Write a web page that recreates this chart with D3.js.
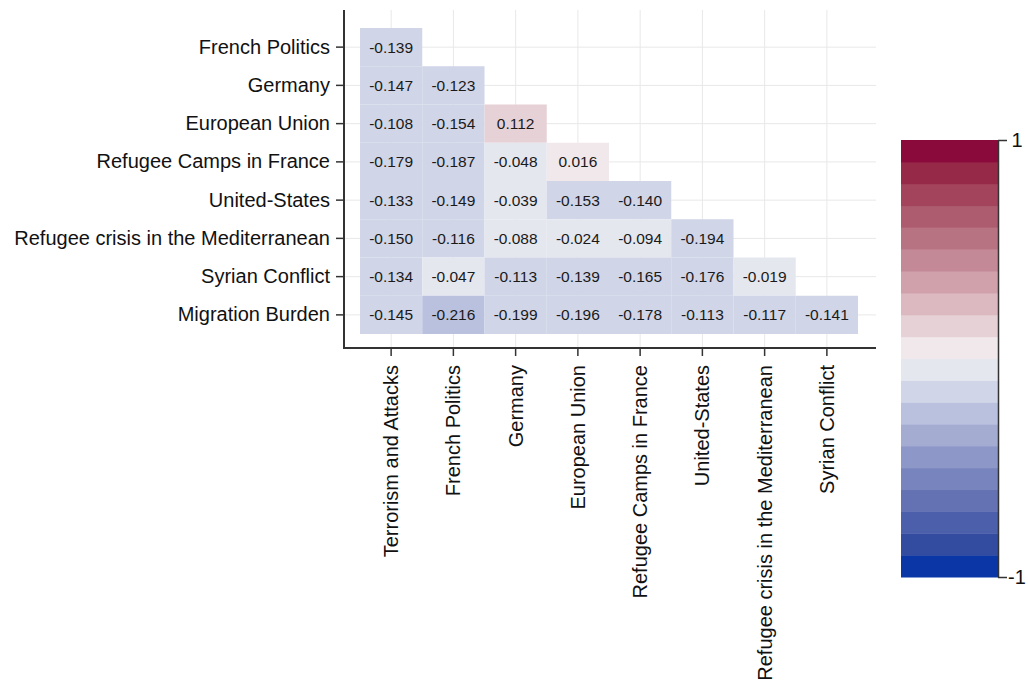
<!DOCTYPE html>
<html>
<head>
<meta charset="utf-8">
<script src="https://cdn.jsdelivr.net/npm/d3@7"></script>
<style>
  html, body { margin: 0; padding: 0; background: #fff; }
  svg { display: block; font-family: "Liberation Sans", Arial, sans-serif; }
</style>
</head>
<body>
<svg id="chart" width="1028" height="682"></svg>
<script>
// ---- Data ----
const rowLabels = ["French Politics", "Germany", "European Union", "Refugee Camps in France",
  "United-States", "Refugee crisis in the Mediterranean", "Syrian Conflict", "Migration Burden"];
const colLabels = ["Terrorism and Attacks", "French Politics", "Germany", "European Union",
  "Refugee Camps in France", "United-States", "Refugee crisis in the Mediterranean", "Syrian Conflict"];
const rowFrenchPolitics = [-0.139];
const rowGermany = [-0.147, -0.123];
const rowEuropeanUnion = [-0.108, -0.154, 0.112];
const rowRefugeeCamps = [-0.179, -0.187, -0.048, 0.016];
const rowUnitedStates = [-0.133, -0.149, -0.039, -0.153, -0.140];
const rowRefugeeCrisis = [-0.150, -0.116, -0.088, -0.024, -0.094, -0.194];
const rowSyrianConflict = [-0.134, -0.047, -0.113, -0.139, -0.165, -0.176, -0.019];
const rowMigrationBurden = [-0.145, -0.216, -0.199, -0.196, -0.178, -0.113, -0.117, -0.141];
const matrixRows = [rowFrenchPolitics, rowGermany, rowEuropeanUnion, rowRefugeeCamps,
  rowUnitedStates, rowRefugeeCrisis, rowSyrianConflict, rowMigrationBurden];
const colorbarTicks = [-1, 1];
// 20 colour steps from -1 to 1
const palette = [
  "rgb(10,55,165)", "rgb(52,76,160)", "rgb(76,95,170)", "rgb(100,114,180)", "rgb(120,132,190)",
  "rgb(142,152,200)", "rgb(165,172,210)", "rgb(186,193,222)", "rgb(208,213,231)", "rgb(229,231,239)",
  "rgb(240,232,235)", "rgb(230,209,214)", "rgb(220,185,193)", "rgb(208,160,171)", "rgb(196,137,151)",
  "rgb(184,115,130)", "rgb(172,92,110)", "rgb(163,68,92)", "rgb(150,40,72)", "rgb(138,10,60)"
];

// ---- Build cells ----
const cells = [];
matrixRows.forEach((vals, r) => {
  vals.forEach((v, c) => cells.push({ row: rowLabels[r], col: colLabels[c], value: v }));
});

const fmtHyphen = f => (v => f(v).replace("\u2212", "-"));
const fmt3 = fmtHyphen(d3.format(".3f"));
const fmtInt = fmtHyphen(d3.format("d"));

const svg = d3.select("#chart");
const axisColor = "#333";
const labelFont = "20px";
const plot = { left: 344, right: 876, top: 10, bottom: 348 };

const x = d3.scaleBand().domain(colLabels).range([360, 858]);
const y = d3.scaleBand().domain(rowLabels).range([28, 334]);
const color = d3.scaleQuantize().domain([-1, 1]).range(palette);

// grid
const grid = svg.append("g");
grid.selectAll("line.v").data(colLabels).join("line")
  .attr("x1", d => x(d) + x.bandwidth() / 2).attr("x2", d => x(d) + x.bandwidth() / 2)
  .attr("y1", plot.top).attr("y2", plot.bottom)
  .attr("stroke", "#e8e8e8").attr("stroke-width", 1);
grid.selectAll("line.h").data(rowLabels).join("line")
  .attr("y1", d => y(d) + y.bandwidth() / 2).attr("y2", d => y(d) + y.bandwidth() / 2)
  .attr("x1", plot.left).attr("x2", plot.right)
  .attr("stroke", "#e8e8e8").attr("stroke-width", 1);

// cells
svg.append("g").selectAll("rect").data(cells).join("rect")
  .attr("x", d => x(d.col)).attr("y", d => y(d.row))
  .attr("width", x.bandwidth()).attr("height", y.bandwidth())
  .attr("fill", d => color(d.value));

svg.append("g").selectAll("text").data(cells).join("text")
  .attr("x", d => x(d.col) + x.bandwidth() / 2)
  .attr("y", d => y(d.row) + y.bandwidth() / 2)
  .attr("text-anchor", "middle").attr("dominant-baseline", "central")
  .attr("font-size", "15.5px").attr("fill", "#1a1a1a")
  .attr("font-family", "Liberation Sans, Arial, sans-serif")
  .text(d => fmt3(d.value));

// axes
const xAxis = svg.append("g").attr("transform", `translate(0,${plot.bottom})`)
  .call(d3.axisBottom(x).tickSize(8).tickPadding(7).tickSizeOuter(0));
xAxis.select(".domain").remove();
xAxis.selectAll(".tick line").attr("stroke", axisColor).attr("stroke-width", 1.5);
xAxis.selectAll(".tick text")
  .attr("font-size", labelFont).attr("font-family", "Liberation Sans, Arial, sans-serif")
  .attr("fill", "#111")
  .attr("transform", "rotate(-90)")
  .attr("text-anchor", "end").attr("dy", "0.35em")
  .attr("x", -17).attr("y", 0);

const yAxis = svg.append("g").attr("transform", `translate(${plot.left},0)`)
  .call(d3.axisLeft(y).tickSize(8).tickPadding(6).tickSizeOuter(0));
yAxis.select(".domain").remove();
yAxis.selectAll(".tick line").attr("stroke", axisColor).attr("stroke-width", 1.5);
yAxis.selectAll(".tick text")
  .attr("font-size", labelFont).attr("font-family", "Liberation Sans, Arial, sans-serif")
  .attr("fill", "#111");

svg.append("line").attr("x1", plot.left).attr("x2", plot.left)
  .attr("y1", plot.top).attr("y2", plot.bottom + 1)
  .attr("stroke", axisColor).attr("stroke-width", 2);
svg.append("line").attr("x1", plot.left - 1).attr("x2", plot.right)
  .attr("y1", plot.bottom).attr("y2", plot.bottom)
  .attr("stroke", axisColor).attr("stroke-width", 2);

// colorbar
const cb = { left: 901, right: 998, top: 140, bottom: 577 };
const cbScale = d3.scaleLinear().domain([-1, 1]).range([cb.bottom, cb.top]);
svg.append("g").selectAll("rect").data(palette).join("rect")
  .attr("x", cb.left).attr("width", cb.right - cb.left)
  .attr("y", d => cbScale(color.invertExtent(d)[1]))
  .attr("height", d => cbScale(color.invertExtent(d)[0]) - cbScale(color.invertExtent(d)[1]) + 0.5)
  .attr("fill", d => d);
const cbAxis = svg.append("g").attr("transform", `translate(${cb.right},0)`)
  .call(d3.axisRight(cbScale).tickValues(colorbarTicks).tickFormat(fmtInt)
    .tickSize(9).tickPadding(3).tickSizeOuter(0));
cbAxis.select(".domain").attr("stroke", axisColor).attr("stroke-width", 1.5);
cbAxis.selectAll(".tick line").attr("stroke", axisColor).attr("stroke-width", 1.5);
cbAxis.selectAll(".tick text").attr("font-size", labelFont)
  .attr("font-family", "Liberation Sans, Arial, sans-serif").attr("fill", "#111")
  .attr("text-anchor", "middle").attr("x", 19);
</script>
</body>
</html>
